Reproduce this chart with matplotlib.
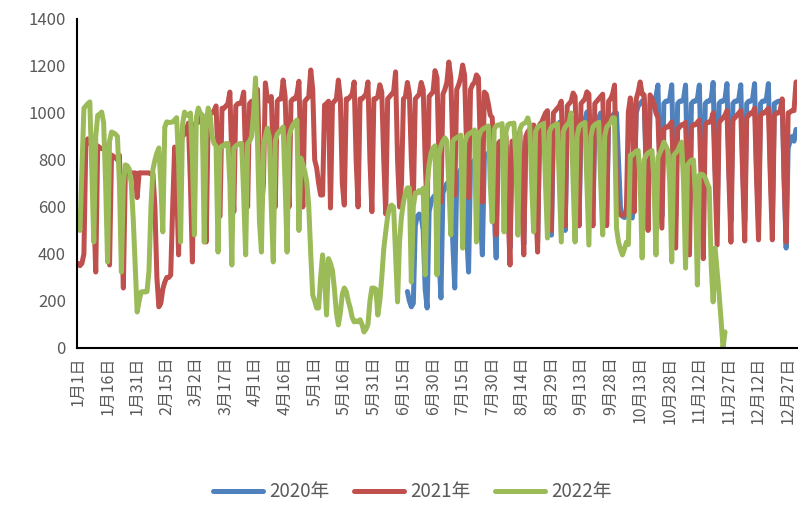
import matplotlib
matplotlib.use("Agg")
import matplotlib.pyplot as plt
import numpy as np

plt.rcParams["font.family"] = ["Noto Sans CJK SC", "DejaVu Sans"]

# 日序号 0..364 对应 1月1日..12月31日
TICK_DAYS = [0, 15, 30, 45, 60, 75, 90, 105, 120, 135, 150, 165, 180,
             195, 210, 225, 240, 255, 270, 285, 300, 315, 330, 345, 360]
TICK_LABELS = ["1月1日", "1月16日", "1月31日", "2月15日", "3月2日", "3月17日",
               "4月1日", "4月16日", "5月1日", "5月16日", "5月31日", "6月15日",
               "6月30日", "7月15日", "7月30日", "8月14日", "8月29日", "9月13日",
               "9月28日", "10月13日", "10月28日", "11月12日", "11月27日",
               "12月12日", "12月27日"]

SERIES_NAMES = ["2020年", "2021年", "2022年"]

# 2020年: 从第167天开始
START_2020 = 167
VALUES_2020 = [
    240, 200, 175, 190,
    520, 560, 570, 560, 500, 250, 170,
    580, 620, 640, 650, 640, 400, 213,
    660, 680, 700, 706, 690, 450, 255,
    720, 740, 760, 766, 750, 500, 323,
    780, 790, 800, 808, 800, 560, 396,
    810, 820, 830, 834, 830, 580, 383,
    840, 850, 860, 870, 860, 600, 425,
    860, 870, 880, 890, 880, 620, 440,
    880, 890, 900, 910, 900, 650, 451,
    900, 910, 920, 940, 930, 680, 480,
    920, 930, 940, 960, 950, 700, 500,
    940, 950, 960, 980, 960, 720, 520,
    950, 960, 970, 1004, 980, 730, 520,
    960, 970, 980, 1000, 990, 740, 530,
    970, 980, 990, 1000, 1000, 800, 600,
    560, 555, 560, 570, 560, 553, 700,
    1000, 1030, 1040, 1050, 1060, 760, 560,
    1040, 1050, 1060, 1070, 1119, 760, 560,
    1040, 1050, 1050, 1060, 1120, 760, 560,
    1040, 1050, 1050, 1060, 1119, 760, 560,
    1040, 1050, 1050, 1060, 1119, 760, 540,
    1040, 1050, 1050, 1060, 1130, 760, 540,
    1040, 1050, 1050, 1060, 1125, 760, 540,
    1040, 1050, 1050, 1060, 1120, 760, 540,
    1040, 1050, 1050, 1060, 1125, 760, 540,
    1040, 1050, 1050, 1060, 1125, 760, 540,
    1040, 1045, 1050, 1050, 1050, 700, 425,
    850, 880, 900, 880, 930,
]

START_2021 = 0
VALUES_2021 = [
    360, 350, 360,
    400, 880, 890, 870, 860, 600, 323,
    860, 850, 850, 845, 864, 600, 353,
    821, 815, 810, 800, 820, 550, 255,
    749, 745, 745, 745, 745, 745, 640,
    745, 745, 745, 745, 745, 745, 740,
    740, 600, 300, 175, 190, 250, 280,
    300, 300, 310, 600, 855, 700, 396,
    880, 900, 910, 930, 957, 700, 366,
    950, 960, 960, 970, 990, 750, 451,
    990, 1000, 1000, 1010, 1030, 800, 560,
    1020, 1020, 1030, 1040, 1089, 800, 580,
    1030, 1040, 1040, 1050, 1089, 800, 600,
    1040, 1050, 1050, 1068, 1100, 800, 580,
    700, 1128, 1060, 1050, 1070, 800, 600,
    1050, 1060, 1060, 1140, 1070, 800, 600,
    1050, 1060, 1060, 1080, 1135, 800, 600,
    1050, 1060, 1070, 1183, 1100, 800, 766,
    700, 651, 651, 1034, 1040, 1050, 596,
    1040, 1050, 1060, 1140, 1060, 700, 608,
    1060, 1060, 1070, 1080, 1132, 800, 600,
    1060, 1060, 1070, 1080, 1132, 800, 580,
    1060, 1060, 1070, 1120, 1090, 800, 570,
    1060, 1070, 1080, 1090, 1175, 800, 600,
    700, 1060, 1070, 1130, 1080, 800, 620,
    1060, 1070, 1080, 1130, 1100, 800, 580,
    1070, 1080, 1090, 1180, 1150, 800, 620,
    1080, 1100, 1130, 1217, 1150, 850, 650,
    1100, 1120, 1150, 1204, 1160, 850, 640,
    1100, 1120, 1130, 1162, 1150, 850, 620,
    1089, 1080, 1040, 991, 980, 800, 481,
    870, 880, 880, 890, 900, 600, 353,
    880, 880, 890, 900, 920, 650, 396,
    900, 920, 930, 940, 949, 650, 408,
    950, 960, 980, 1000, 1010, 750, 500,
    1000, 1010, 1020, 1030, 1050, 750, 520,
    1030, 1040, 1050, 1085, 1070, 780, 520,
    1040, 1050, 1060, 1090, 1080, 780, 520,
    1040, 1050, 1060, 1070, 1080, 780, 520,
    1050, 1060, 1080, 1119, 700, 580, 566,
    566, 566, 580, 1004, 1064, 1000, 579,
    1060, 1090, 1132, 1080, 1077, 800, 500,
    1077, 1060, 1040, 1000, 980, 750, 510,
    930, 940, 940, 950, 962, 700, 425,
    930, 940, 950, 950, 960, 700, 396,
    940, 950, 950, 960, 970, 700, 380,
    950, 960, 960, 970, 1000, 720, 438,
    960, 970, 980, 990, 1010, 720, 450,
    970, 980, 990, 1000, 1010, 720, 455,
    980, 990, 1000, 1000, 1020, 720, 460,
    990, 1000, 1000, 1010, 1020, 720, 460,
    990, 1000, 1000, 1010, 1060, 720, 450,
    1000, 1004, 1010, 1010, 1132,
]

START_2022 = 0
VALUES_2022 = [
    540, 500, 760, 1020, 1030, 1040, 1047,
    760, 451, 900, 990, 995, 1004, 960,
    700, 366, 880, 919, 915, 910, 900,
    700, 323, 700, 779, 775, 760, 700,
    550, 350, 153, 200, 238, 240, 238,
    240, 330, 600, 760, 800, 830, 851,
    700, 494, 940, 962, 960, 960, 962,
    970, 980, 800, 451, 950, 1004, 990,
    990, 1000, 800, 481, 980, 1021, 1000,
    990, 450, 950, 1021, 990, 900, 870,
    860, 408, 850, 860, 860, 870, 870,
    700, 353, 850, 860, 865, 870, 870,
    650, 396, 870, 880, 900, 1000, 1149,
    880, 536, 408, 860, 900, 936, 900,
    600, 366, 880, 910, 920, 930, 940,
    700, 408, 900, 930, 950, 960, 970,
    500, 808, 780, 750, 706, 600, 400,
    225, 200, 170, 170, 300, 396, 300,
    140, 380, 360, 330, 250, 150, 98,
    150, 230, 255, 240, 200, 170, 130,
    111, 115, 111, 120, 100, 68, 80,
    100, 200, 255, 255, 250, 140, 200,
    300, 420, 494, 560, 600, 608, 600,
    400, 196, 450, 560, 620, 660, 681,
    681, 281, 600, 660, 660, 670, 660,
    680, 311, 700, 780, 830, 851, 860,
    311, 820, 860, 880, 894, 880, 700,
    481, 880, 890, 895, 900, 906, 425,
    870, 900, 910, 915, 920, 928, 451,
    890, 920, 930, 935, 940, 945, 700,
    536, 930, 945, 949, 950, 955, 494,
    920, 950, 955, 955, 957, 800, 480,
    930, 950, 955, 960, 979, 950, 700,
    494, 920, 940, 945, 950, 955, 700,
    468, 920, 940, 945, 950, 955, 700,
    451, 920, 940, 950, 960, 1000, 700,
    451, 900, 940, 950, 955, 960, 700,
    438, 900, 940, 950, 955, 960, 700,
    481, 900, 940, 950, 960, 979, 979,
    510, 451, 420, 396, 420, 450, 440,
    821, 820, 830, 838, 840, 700, 383,
    800, 820, 830, 835, 840, 700, 396,
    810, 830, 850, 876, 860, 840, 700,
    366, 820, 830, 840, 860, 876, 700,
    340, 780, 790, 800, 800, 650, 268,
    736, 740, 736, 723, 700, 681, 350,
    196, 425, 330, 230, 120, 0, 68,
]

COLORS = ["#4F81BD", "#C0504D", "#9BBB59"]
TEXT_COLOR = "#595959"


def main() -> None:
    assert len(VALUES_2021) == 365

    fig = plt.figure(figsize=(8.0, 5.05), dpi=100)
    ax = fig.add_axes([0.09625, 0.311, 0.9, 0.6514])

    series = [
        (START_2020, VALUES_2020),
        (START_2021, VALUES_2021),
        (START_2022, VALUES_2022),
    ]
    for (start, values), name, color in zip(series, SERIES_NAMES, COLORS):
        days = np.arange(start, start + len(values))
        ax.plot(days, values, color=color, linewidth=3.6, label=name,
                solid_joinstyle="round", solid_capstyle="round")

    ax.set_xlim(-0.5, 364.5)
    ax.set_ylim(0, 1400)
    ax.set_yticks(range(0, 1401, 200))
    ax.set_xticks(TICK_DAYS)
    ax.set_xticklabels(TICK_LABELS, rotation=90)

    for side in ("top", "right"):
        ax.spines[side].set_visible(False)
    for side in ("left", "bottom"):
        ax.spines[side].set_color("black")
        ax.spines[side].set_linewidth(1.5)

    ax.tick_params(axis="x", length=0, pad=6, labelsize=11.5, colors=TEXT_COLOR)
    ax.tick_params(axis="y", length=0, pad=8, labelsize=12, colors=TEXT_COLOR)

    fig.legend(loc="center", bbox_to_anchor=(0.515, 0.026), ncol=3,
               frameon=False, fontsize=13.5, handlelength=2.7, columnspacing=1.3,
               handletextpad=0.3, labelcolor=TEXT_COLOR)

    fig.savefig("out.png", dpi=100)
    plt.close(fig)


if __name__ == "__main__":
    main()
